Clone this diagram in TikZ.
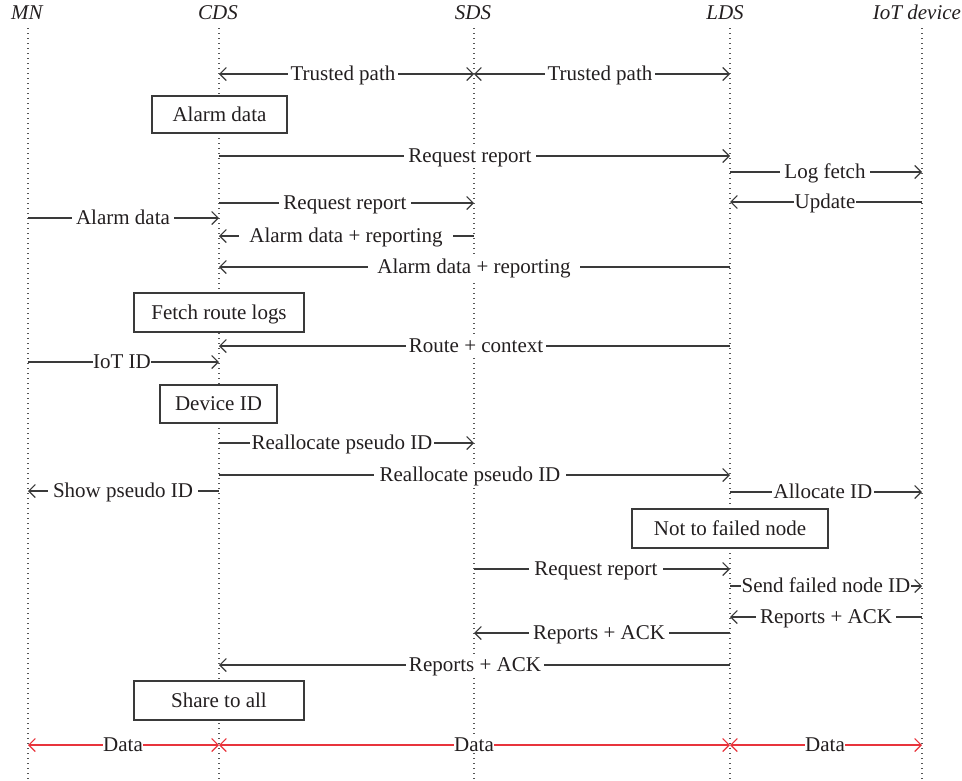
\documentclass[tikz,border=0pt]{standalone}
\usepackage{fontspec}
\setmainfont{Liberation Serif}
\usetikzlibrary{arrows.meta}
\definecolor{ink}{HTML}{231F20}
\definecolor{ln}{HTML}{3A3A3A}
\definecolor{dotc}{HTML}{555555}
\definecolor{rd}{HTML}{E8343C}
\tikzset{
  >={Straight Barb[length=6.5pt,width=13pt]},
  life/.style={draw=dotc, line width=1.1pt, dash pattern=on 1.1pt off 3.9pt},
  msg/.style={draw=ln, line width=1.1pt},
  lbl/.style={fill=white, text=ink, inner ysep=1pt, inner xsep=5pt, anchor=base},
  boxn/.style={draw=ln, fill=white, line width=1.2pt, text=ink, text height=13.9pt, text depth=0pt, inner sep=0pt},
  hdr/.style={text=ink, font=\fontsize{21}{25}\selectfont\itshape, text height=13.9pt, text depth=0pt, inner sep=0pt},
  datal/.style={draw=rd, line width=1.1pt, <->},
}
\newcommand\Msg[8][]{%
  \coordinate (#2a) at (#4,#3);
  \coordinate (#2b) at (#5,#3);
  \draw[msg,#8] (#2a) -- (#2b);
  \node[lbl,#1] (#2) at (#7,{#3+6.5}) {#6};}
\begin{document}
\begin{tikzpicture}[x=1pt,y=-1pt,font=\fontsize{21}{25}\selectfont]
\useasboundingbox (0,0) rectangle (962,780);
% headers
\node[hdr] (hMN)  at (27,13)  {MN};
\node[hdr] (hCDS) at (218,13) {CDS};
\node[hdr] (hSDS) at (473,13) {SDS};
\node[hdr] (hLDS) at (725,13) {LDS};
\node[hdr] (hIoT) at (917,13) {IoT device};
% lifelines
\foreach \n/\x in {MN/28,CDS/219,SDS/474,LDS/730,IoT/922}{
  \coordinate (l\n t) at (\x,28);
  \coordinate (l\n b) at (\x,780);
  \draw[life] (l\n t) -- (l\n b);
}
% messages
\Msg[inner xsep=3pt]{mA}{74}{219}{474}{Trusted path}{343}{<->}
\Msg[inner xsep=3pt]{mB}{74}{474}{730}{Trusted path}{600}{<->}
\Msg[inner xsep=4pt]{mC}{156}{219}{730}{Request report}{470}{->}
\Msg[inner xsep=4pt]{mD}{172}{730}{922}{Log fetch}{825}{->}
\Msg[inner xsep=0.5pt]{mE}{202}{922}{730}{Update}{825}{->}
\Msg[inner xsep=4pt]{mF}{203}{219}{474}{Request report}{345}{->}
\Msg[inner xsep=4pt]{mG}{218}{28}{219}{Alarm data}{123}{->}
\Msg[inner xsep=10pt]{mH}{236}{474}{219}{Alarm data + reporting}{346}{->}
\Msg[inner xsep=9pt]{mI}{267}{730}{219}{Alarm data + reporting}{474}{->}
\Msg[inner xsep=3pt]{mJ}{346}{730}{219}{Route + context}{476}{->}
\Msg[inner xsep=0.5pt]{mK}{362}{28}{219}{IoT ID}{122}{->}
\Msg[inner xsep=2pt]{mL}{443}{219}{474}{Reallocate pseudo ID}{342}{->}
\Msg[inner xsep=6pt]{mM}{475}{219}{730}{Reallocate pseudo ID}{470}{->}
\Msg[inner xsep=5pt]{mN}{491}{219}{28}{Show pseudo ID}{123}{->}
\Msg[inner xsep=2pt]{mO}{492}{730}{922}{Allocate ID}{823}{->}
\Msg[inner xsep=5pt]{mP}{569}{474}{730}{Request report}{596}{->}
\Msg[inner xsep=0.5pt]{mQ}{586}{730}{922}{Send failed node ID}{826}{->}
\Msg[inner xsep=4pt]{mR}{617}{922}{730}{Reports + ACK}{826}{->}
\Msg[inner xsep=4pt]{mS}{633}{730}{474}{Reports + ACK}{599}{->}
\Msg[inner xsep=3pt]{mT}{665}{730}{219}{Reports + ACK}{475}{->}
\Msg[inner xsep=0.5pt]{dA}{745}{28}{219}{Data}{123}{datal}
\Msg[inner xsep=0.5pt]{dB}{745}{219}{730}{Data}{474}{datal}
\Msg[inner xsep=0.5pt]{dC}{745}{730}{922}{Data}{825}{datal}
% boxes
\node[boxn, minimum width=135pt, minimum height=37pt] (bA) at (219.5,114.5) {Alarm data};
\node[boxn, minimum width=170pt, minimum height=39pt] (bB) at (219,312.5) {Fetch route logs};
\node[boxn, minimum width=117pt, minimum height=38pt] (bC) at (218.5,404) {Device ID};
\node[boxn, minimum width=196pt, minimum height=39pt] (bD) at (730,528.5) {Not to failed node};
\node[boxn, minimum width=170pt, minimum height=39pt] (bE) at (219,700.5) {Share to all};
\end{tikzpicture}
\end{document}
